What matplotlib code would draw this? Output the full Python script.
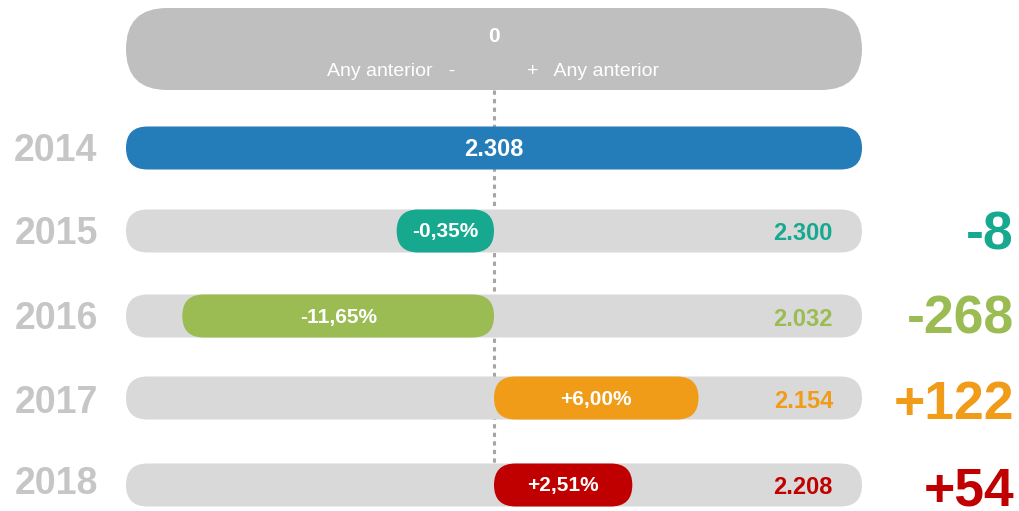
import matplotlib
matplotlib.use("Agg")
import matplotlib.pyplot as plt
from matplotlib.patches import FancyBboxPatch

plt.rcParams['font.family'] = ['Liberation Sans', 'DejaVu Sans']

years = ["2014", "2015", "2016", "2017", "2018"]
totals = ["2.308", "2.300", "2.032", "2.154", "2.208"]
pct_values = [-0.35, -11.65, 6.00, 2.51]
pct_labels = ["-0,35%", "-11,65%", "+6,00%", "+2,51%"]
diff_labels = ["-8", "-268", "+122", "+54"]
colors = ["#17A98F", "#9BBB53", "#F09C18", "#C00000"]

BLUE = "#247CB9"
TRACK = "#D9D9D9"
HEADER = "#BFBFBF"
YEAR_GREY = "#C6C6C6"

# layout in pixel units
W, H = 1019, 511
x_left, x_right, x_zero = 126, 862, 494
row_y = [148, 231, 316, 398, 485]
year_y = [149, 232, 317, 401, 482]
diff_y = [233, 316, 402, 489]
bar_h = 43


def bar_length(p):
    # pill width: fixed cap plus a linear part
    return 90.7 + 18.97 * abs(p)


def pill(ax, x0, x1, yc, h, color, z=2):
    r = h / 2
    ax.add_patch(FancyBboxPatch((x0, yc - h / 2), x1 - x0, h,
                                boxstyle="round,pad=0,rounding_size=%f" % r,
                                mutation_aspect=1, facecolor=color,
                                edgecolor="none", zorder=z))


fig = plt.figure(figsize=(W / 100, H / 100), dpi=100)
ax = fig.add_axes([0, 0, 1, 1])
ax.set_xlim(0, W)
ax.set_ylim(H, 0)
ax.axis("off")

# header
pill(ax, x_left, x_right, 49, 82, HEADER)
ax.text(x_zero, 37, "0", color="white", fontsize=15, fontweight="bold",
        ha="center", va="center")
ax.text(455, 71, "Any anterior   -", color="white", fontsize=14,
        ha="right", va="center")
ax.text(527, 71, "+   Any anterior", color="white", fontsize=14,
        ha="left", va="center")

# zero line
ax.plot([x_zero, x_zero], [90, 463], color="#A6A6A6", lw=2.2,
        dashes=(1.4, 1.4), zorder=1)

# base year
pill(ax, x_left, x_right, row_y[0], bar_h, BLUE)
ax.text(x_zero, row_y[0] + 1, totals[0], color="white", fontsize=17,
        fontweight="bold", ha="center", va="center", zorder=5)

for i, y in enumerate(year_y):
    ax.text(56, y + 12, years[i], color=YEAR_GREY, fontsize=27,
            fontweight="bold", ha="center", va="baseline")

for i, p in enumerate(pct_values):
    y = row_y[i + 1]
    c = colors[i]
    pill(ax, x_left, x_right, y, bar_h, TRACK, z=2)
    L = bar_length(p)
    x0, x1 = (x_zero - L, x_zero) if p < 0 else (x_zero, x_zero + L)
    pill(ax, x0, x1, y, bar_h, c, z=3)
    ax.text((x0 + x1) / 2, y + 1, pct_labels[i], color="white", fontsize=15,
            fontweight="bold", ha="center", va="center", zorder=5)
    ax.text(833, y + 3, totals[i + 1], color=c, fontsize=17,
            fontweight="bold", ha="right", va="center", zorder=5)
    ax.text(1014, diff_y[i] + 17, diff_labels[i], color=c, fontsize=38.5,
            fontweight="bold", ha="right", va="baseline", zorder=5)

fig.savefig("out.png", dpi=100)
